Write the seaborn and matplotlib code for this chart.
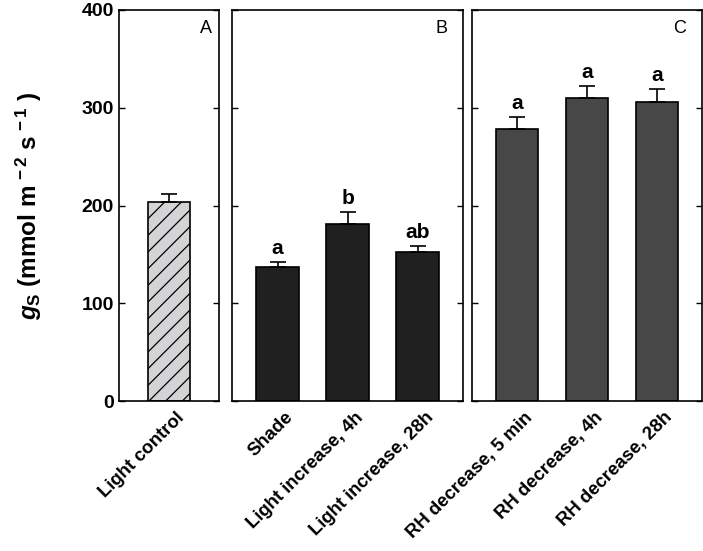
import matplotlib
matplotlib.use("Agg")
import matplotlib.pyplot as plt
import matplotlib.transforms as mtransforms
import seaborn as sns
import pandas as pd

sns.set_style("white")
plt.rcParams["font.family"] = ["Liberation Sans", "DejaVu Sans"]
plt.rcParams["mathtext.fontset"] = "custom"
plt.rcParams["mathtext.rm"] = "Liberation Sans:bold"
plt.rcParams["mathtext.it"] = "Liberation Sans:bold:italic"
plt.rcParams["mathtext.bf"] = "Liberation Sans:bold"
plt.rcParams["hatch.linewidth"] = 0.9
for k in ["text.color", "axes.labelcolor", "xtick.color", "ytick.color"]:
    plt.rcParams[k] = "black"

# data
ctrl_labels = ["Light control"]
ctrl_means = [204]
ctrl_err = [8]

light_labels = ["Shade", "Light increase, 4h", "Light increase, 28h"]
light_means = [137, 181, 152]
light_err = [5, 12, 7]
light_letters = ["a", "b", "ab"]

rh_labels = ["RH decrease, 5 min", "RH decrease, 4h", "RH decrease, 28h"]
rh_means = [278, 310, 306]
rh_err = [13, 12, 13]
rh_letters = ["a", "a", "a"]

fig = plt.figure(figsize=(7.03, 5.51), dpi=100)
axA = fig.add_axes([0.169, 0.272, 0.142, 0.710])
axB = fig.add_axes([0.330, 0.272, 0.329, 0.710])
axC = fig.add_axes([0.671, 0.272, 0.328, 0.710])

panels = [
    (axA, ctrl_labels, ctrl_means, ctrl_err, None, "#d4d4d6", "A", (-0.72, 0.71)),
    (axB, light_labels, light_means, light_err, light_letters, "#202020", "B", (-0.65, 2.65)),
    (axC, rh_labels, rh_means, rh_err, rh_letters, "#474747", "C", (-0.65, 2.65)),
]

shift = mtransforms.ScaledTranslation(7 / 100, -3 / 100, fig.dpi_scale_trans)

for ax, labels, means, errs, letters, color, tag, xlim in panels:
    df = pd.DataFrame({"treatment": labels, "gs": means})
    sns.barplot(data=df, x="treatment", y="gs", color=color, width=0.61,
                edgecolor="black", linewidth=1.2, saturation=1, ax=ax, errorbar=None)
    if tag == "A":
        for p in ax.patches:
            p.set_hatch("//")
    x = list(range(len(labels)))
    ax.errorbar(x, means, yerr=[[0] * len(errs), errs], fmt="none",
                ecolor="black", elinewidth=1.2, capsize=6, capthick=1.2)
    if letters:
        for xi, m, e, lt in zip(x, means, errs, letters):
            ax.text(xi, m + e + 4, lt, ha="center", va="bottom",
                    fontsize=15, fontweight="bold")
    ax.set_xlim(*xlim)
    ax.set_ylim(0, 400)
    ax.set_yticks([0, 100, 200, 300, 400])
    ax.set_xlabel("")
    ax.set_ylabel("")
    ax.tick_params(axis="y", direction="in", left=True, right=True, length=4, width=1)
    ax.tick_params(axis="x", bottom=False, length=0)
    ax.set_xticks(x)
    ax.set_xticklabels(labels, rotation=45, ha="right", rotation_mode="anchor",
                       fontsize=13.3, fontweight="bold")
    for lbl in ax.get_xticklabels():
        lbl.set_transform(lbl.get_transform() + shift)
    for s in ax.spines.values():
        s.set_visible(True)
        s.set_color("black")
        s.set_linewidth(1.2)
    ax.text(0.93, 0.975, tag, transform=ax.transAxes, ha="right", va="top", fontsize=13)
    if tag != "A":
        ax.set_yticklabels([])

for lbl in axA.get_yticklabels():
    lbl.set_fontweight("bold")
    lbl.set_fontsize(14)
axA.set_ylabel(r"$g_\mathrm{S}$ (mmol m$^{\,-2}$ s$^{\,-1}$ )", fontsize=17.5,
               fontweight="bold", labelpad=27)

fig.savefig("out.png", dpi=100)
